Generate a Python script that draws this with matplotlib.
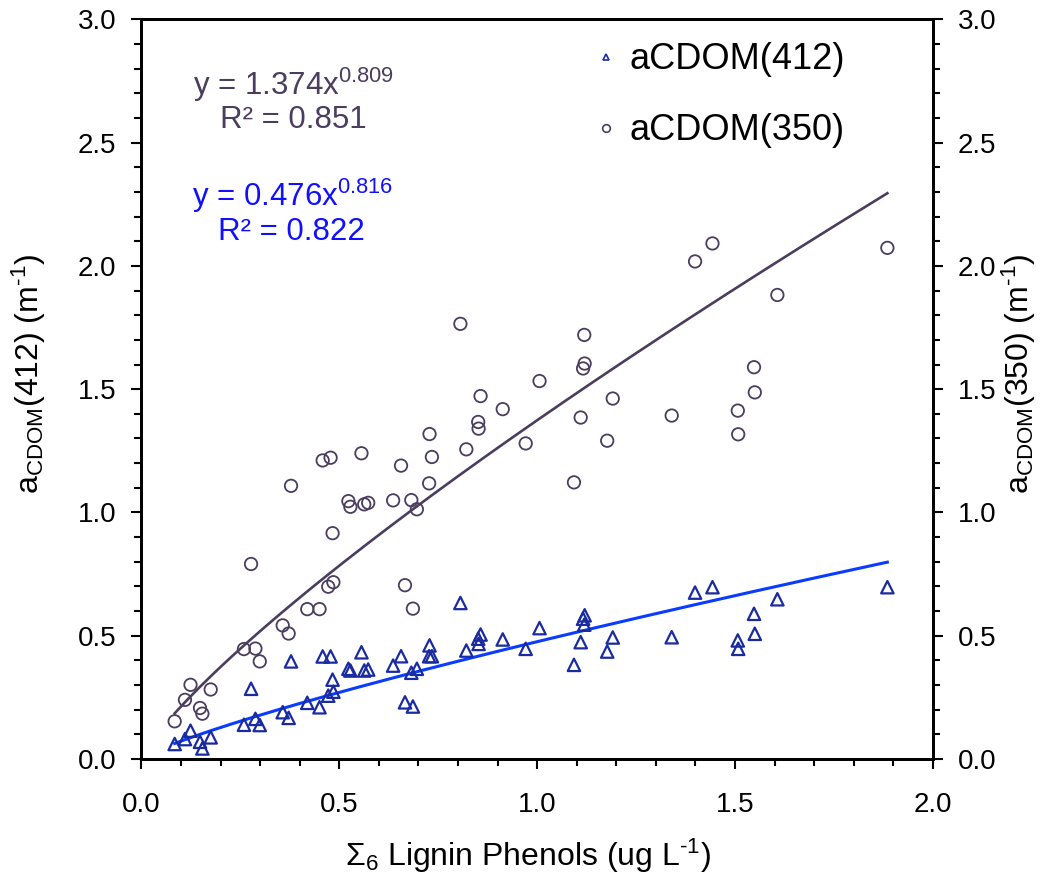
import matplotlib
matplotlib.use("Agg")
import matplotlib.pyplot as plt
from matplotlib.lines import Line2D
from matplotlib.ticker import MultipleLocator
import numpy as np

plt.rcParams['font.family'] = ['Liberation Sans', 'DejaVu Sans']
plt.rcParams['mathtext.fontset'] = 'custom'
plt.rcParams['mathtext.rm'] = 'Liberation Sans'
plt.rcParams['mathtext.it'] = 'Liberation Sans:italic'
plt.rcParams['mathtext.bf'] = 'Liberation Sans:bold'

# sum of 6 lignin phenols (ug/L), shared by both absorption series
lignin = [0.084, 0.110, 0.124, 0.148, 0.154, 0.175, 0.259, 0.277, 0.288, 0.299,
          0.357, 0.372, 0.378, 0.419, 0.450, 0.458, 0.478, 0.472, 0.485, 0.483,
          0.523, 0.528, 0.556, 0.563, 0.573, 0.636, 0.656, 0.666, 0.686, 0.682,
          0.696, 0.728, 0.734, 0.727, 0.806, 0.821, 0.857, 0.851, 0.852, 0.913,
          0.971, 1.006, 1.093, 1.110, 1.116, 1.120, 1.119, 1.177, 1.191, 1.340,
          1.399, 1.443, 1.507, 1.508, 1.548, 1.550, 1.607, 1.885]

a350 = [0.153, 0.240, 0.301, 0.207, 0.184, 0.282, 0.446, 0.791, 0.448, 0.396,
        0.542, 0.509, 1.108, 0.608, 0.608, 1.211, 1.222, 0.699, 0.717, 0.916,
        1.046, 1.023, 1.240, 1.033, 1.039, 1.049, 1.190, 0.705, 0.610, 1.050,
        1.013, 1.318, 1.225, 1.118, 1.765, 1.256, 1.472, 1.367, 1.340, 1.419,
        1.280, 1.533, 1.122, 1.385, 1.584, 1.604, 1.720, 1.291, 1.462, 1.393,
        2.018, 2.091, 1.413, 1.317, 1.589, 1.487, 1.882, 2.073]

a412 = [0.061, 0.081, 0.115, 0.070, 0.043, 0.088, 0.139, 0.285, 0.163, 0.138,
        0.190, 0.167, 0.396, 0.228, 0.210, 0.416, 0.416, 0.257, 0.273, 0.322,
        0.366, 0.359, 0.433, 0.359, 0.363, 0.379, 0.417, 0.230, 0.213, 0.350,
        0.366, 0.461, 0.417, 0.417, 0.633, 0.440, 0.505, 0.488, 0.467, 0.485,
        0.447, 0.531, 0.382, 0.474, 0.569, 0.583, 0.545, 0.436, 0.493, 0.494,
        0.675, 0.697, 0.481, 0.447, 0.589, 0.508, 0.648, 0.697]

# power-law fits printed on the chart
fit350 = (1.374, 0.809, 0.851)
fit412 = (0.476, 0.816, 0.822)

purple = '#4b3d5e'
navy = '#1a2ba0'
blue = '#0a3cff'
txtblue = '#1010ff'

fig = plt.figure(figsize=(10.4, 8.77), dpi=100)
ax = fig.add_axes([0.136, 0.1345, 0.761, 0.8435])

xf = np.linspace(min(lignin), max(lignin), 200)
ax.plot(xf, fit350[0] * xf ** fit350[1], color=purple, lw=1.9, zorder=2)
ax.plot(xf, fit412[0] * xf ** fit412[1], color=blue, lw=2.2, zorder=2)

ax.scatter(lignin, a350, s=80, marker='o', facecolors='none', edgecolors=purple,
           linewidths=1.3, zorder=3)
ax.scatter(lignin, a412, s=80, marker='^', facecolors='none', edgecolors=navy,
           linewidths=1.6, zorder=3)

ax.set_xlim(0, 2.0)
ax.set_ylim(0, 3.0)
ax.xaxis.set_major_locator(MultipleLocator(0.5))
ax.xaxis.set_minor_locator(MultipleLocator(0.1))
ax.yaxis.set_major_locator(MultipleLocator(0.5))
ax.yaxis.set_minor_locator(MultipleLocator(0.1))
ax.xaxis.set_major_formatter(lambda v, p: f'{v:.1f}')
ax.yaxis.set_major_formatter(lambda v, p: f'{v:.1f}')

ax2 = ax.twinx()
ax2.set_ylim(0, 3.0)
ax2.yaxis.set_major_locator(MultipleLocator(0.5))
ax2.yaxis.set_minor_locator(MultipleLocator(0.1))
ax2.yaxis.set_major_formatter(lambda v, p: f'{v:.1f}')

for a in (ax, ax2):
    for s in a.spines.values():
        s.set_linewidth(2.0)
    a.tick_params(which='major', direction='out', length=7, width=1.5,
                  labelsize=20, pad=11)
    a.tick_params(which='minor', direction='out', length=5, width=1.5)
ax.tick_params(axis='y', which='both', right=False)
ax.tick_params(axis='x', which='major', pad=17)

ax.set_xlabel(r'$\Sigma_{\mathregular{6}}$ Lignin Phenols (ug L$^{\text{-1}}$)',
              fontsize=23)
ax.xaxis.set_label_coords(0.488, -0.105)
ax.set_ylabel(r'a$_{\mathregular{CDOM}}$(412) (m$^{\text{-1}}$)', fontsize=23)
ax.yaxis.set_label_coords(-0.118, 0.52)
ax2.set_ylabel(r'a$_{\mathregular{CDOM}}$(350) (m$^{\text{-1}}$)', fontsize=23)
ax2.yaxis.set_label_coords(1.085, 0.52)

ax.text(0.065, 0.911, r'y = %.3fx$^{\mathregular{%.3f}}$' % fit350[:2],
        transform=ax.transAxes, fontsize=22.5, color=purple, va='center')
ax.text(0.099, 0.864, 'R² = %.3f' % fit350[2],
        transform=ax.transAxes, fontsize=22.5, color=purple, va='center')
ax.text(0.064, 0.762, r'y = %.3fx$^{\mathregular{%.3f}}$' % fit412[:2],
        transform=ax.transAxes, fontsize=22.5, color=txtblue, va='center')
ax.text(0.097, 0.712, 'R² = %.3f' % fit412[2],
        transform=ax.transAxes, fontsize=22.5, color=txtblue, va='center')

handles = [Line2D([], [], ls='none', marker='^', ms=5, mfc='none', mec=navy, mew=1.2),
           Line2D([], [], ls='none', marker='o', ms=5.5, mfc='none', mec=purple, mew=1.2)]
ax.legend(handles, ['aCDOM(412)', 'aCDOM(350)'], loc='upper left',
          bbox_to_anchor=(0.535, 1.013), frameon=False, fontsize=26,
          handlelength=0.5, handletextpad=0.39, labelspacing=1.0)

fig.savefig('out.png', dpi=100)
